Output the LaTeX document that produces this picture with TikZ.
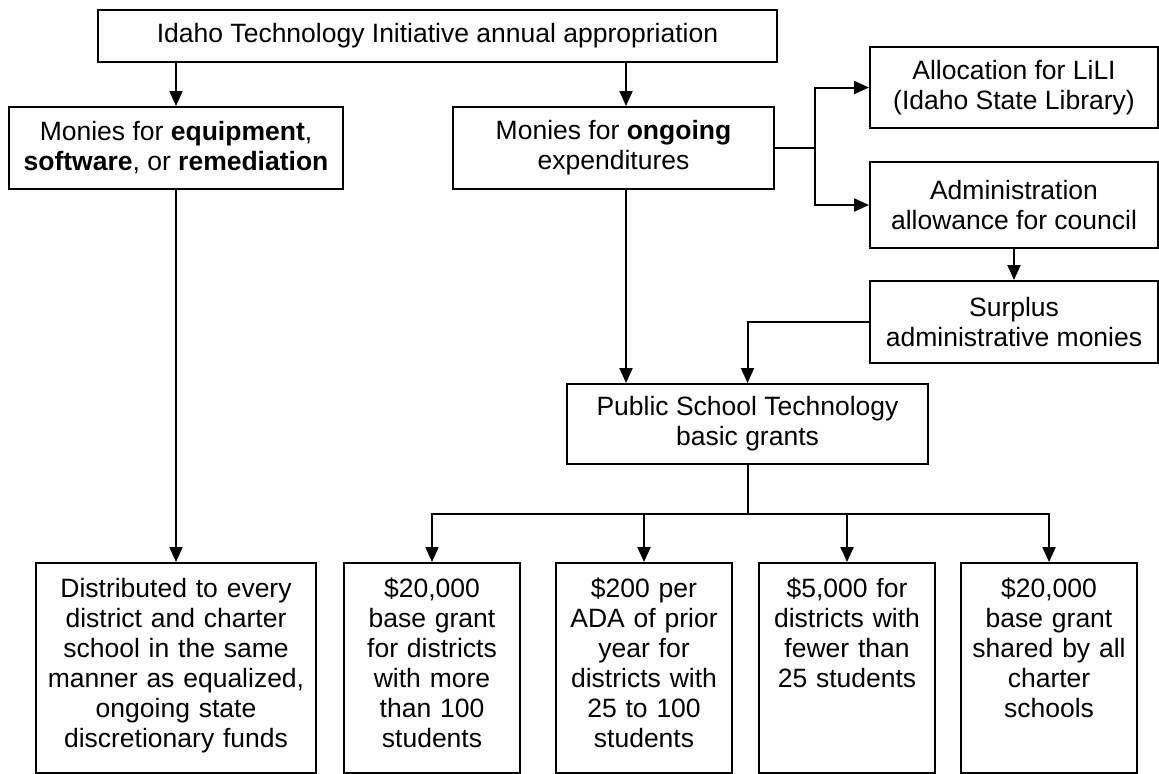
\documentclass[tikz,border=0pt]{standalone}
\usepackage{fontspec}
\setmainfont{Liberation Sans}
\usepackage{tikz}
\usetikzlibrary{arrows.meta,positioning}

\newcommand{\chartfont}{\fontsize{13.25}{15}\selectfont}

\begin{document}
\begin{tikzpicture}[->,>={Triangle[length=7.5pt,width=6.5pt]},x=0.5pt,y=-0.5pt,
    line width=1pt,
    box/.style={draw,align=center,font=\chartfont,inner sep=3pt},
    grant/.style={box,anchor=north,inner xsep=4pt,inner ysep=0pt,
      text height=17pt,text depth=88pt}]

  \useasboundingbox (0,0) rectangle (1159,773);

  % funding sources
  \node[box,minimum width=339.5pt,minimum height=26pt] (approp) at (437.5,36)
    {Idaho Technology Initiative annual appropriation};
  \node[box,minimum width=167pt,minimum height=41pt] (equip) at (176,148)
    {Monies for \textbf{equipment},\\ \textbf{software}, or \textbf{remediation}};
  \node[box,minimum width=160.5pt,minimum height=41pt] (ongoing) at (613.5,148)
    {Monies for \textbf{ongoing}\\ expenditures};
  \node[box,minimum width=144pt,minimum height=40.5pt] (lili) at (1014,87.5)
    {Allocation for LiLI\\ (Idaho State Library)};
  \node[box,minimum width=144pt,minimum height=43pt] (admin) at (1014,205)
    {Administration\\ allowance for council};
  \node[box,minimum width=144pt,minimum height=41pt] (surplus) at (1014,322)
    {Surplus\\ administrative monies};
  \node[box,minimum width=180.5pt,minimum height=40pt] (basic) at (747.5,424)
    {Public School Technology\\ basic grants};

  % grants along the bottom
  \node[grant,text width=132pt] (dist) at (176,562)
    {Distributed to every\\ district and charter\\ school in the same\\
     manner as equalized,\\ ongoing state\\ discretionary funds};
  \node[grant,text width=80pt] (g1) at (432,562)
    {\$20,000\\ base grant\\ for districts\\ with more\\ than 100\\ students};
  \node[grant,text width=80pt] (g2) at (644,562)
    {\$200 per\\ ADA of prior\\ year for\\ districts with\\ 25 to 100\\ students};
  \node[grant,text width=80pt] (g3) at (847,562)
    {\$5,000 for\\ districts with\\ fewer than\\ 25 students};
  \node[grant,text width=80pt] (g4) at (1049,562)
    {\$20,000\\ base grant\\ shared by all\\ charter\\ schools};

  \coordinate (mid) at (626,0);
  \coordinate (split) at (815,148);

  \path (approp.south -| equip) edge (equip);
  \path (approp.south -| mid) edge (ongoing.north -| mid);
  \draw[-] (ongoing) -- (split);
  \draw (split) |- (lili);
  \draw (split) |- (admin);
  \path (admin) edge (surplus);
  \draw (surplus) -| (basic);
  \path (ongoing.south -| mid) edge (basic.north -| mid);
  \path (equip) edge (dist);

  \draw[-] (basic.south) -- ++(0,49) coordinate (fork);
  \foreach \g in {g1,g2,g3,g4}
    \draw (fork) -| (\g);
\end{tikzpicture}
\end{document}
